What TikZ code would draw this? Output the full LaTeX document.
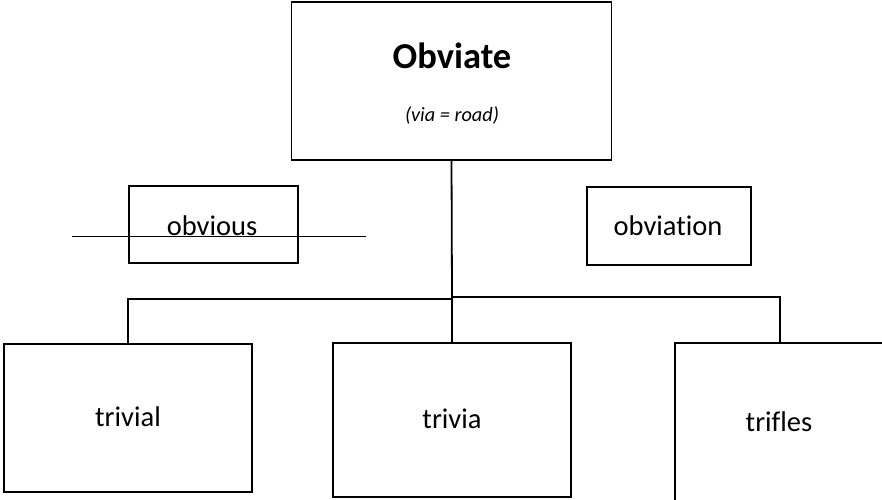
\documentclass[tikz,border=0pt]{standalone}
\usepackage{fontspec}
\setmainfont{Carlito}[Ligatures=NoCommon]
\begin{document}
\begin{tikzpicture}[x=1pt,y=-1pt,
  boxnode/.style={draw, line width=1.8pt, inner sep=0pt, outer sep=0pt},
  word/.style={font=\fontsize{28.5}{34}\selectfont, anchor=base, inner sep=0pt},
  conn/.style={line width=1.8pt}]
\clip (0,0) rectangle (882,499);
% boxes
\node[boxnode, minimum width=320, minimum height=158] (top) at (451.5,81) {};
\node[boxnode, minimum width=169, minimum height=77] (obvious) at (213.5,224.5) {};
\node[boxnode, minimum width=164, minimum height=78] (obviation) at (669,226) {};
\node[boxnode, minimum width=248, minimum height=148] (trivial) at (128,418) {};
\node[boxnode, minimum width=238, minimum height=154] (trivia) at (452,420) {};
\node[boxnode, minimum width=210, minimum height=170] (trifles) at (780,428) {};
% texts
\node[word, font=\bfseries\fontsize{36.5}{44}\selectfont] (t1) at (452,68) {Obviate};
\node[word, font=\itshape\fontsize{20.3}{24}\selectfont] (t2) at (452,121) {(via = road)};
\node[word] (w1) at (212,235) {obvious};
\node[word] (w2) at (668,235) {obviation};
\node[word] (w3) at (128,426) {trivial};
\node[word] (w4) at (452,428) {trivia};
\node[word] (w5) at (779,431) {trifles};
% strike line
\coordinate (sL) at (72,236);
\coordinate (sR) at (366,236);
\draw[line width=1pt] (sL) -- (sR);
% connectors
\coordinate (j) at (452,299);
\coordinate (k) at (452,297);
\draw[conn] (top.south) -- (j);
\draw[conn] (j) -| (trivial.north);
\draw[conn] (j) -- (trivia.north);
\draw[conn] (k) -| (trifles.north);
\end{tikzpicture}
\end{document}
